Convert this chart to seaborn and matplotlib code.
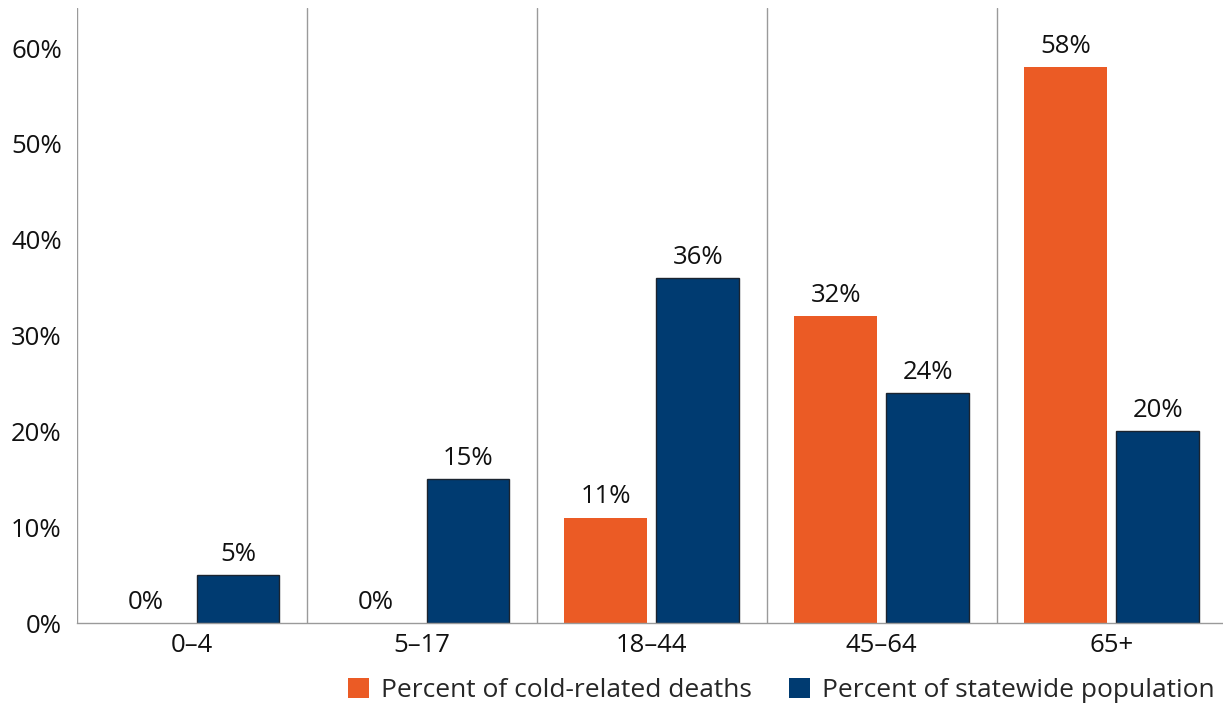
import matplotlib
matplotlib.use("Agg")
import matplotlib.pyplot as plt
import seaborn as sns
import pandas as pd
from matplotlib.patches import Patch

age_groups = ["0\u20134", "5\u201317", "18\u201344", "45\u201364", "65+"]
cold_deaths_pct = [0, 0, 11, 32, 58]
population_pct = [5, 15, 36, 24, 20]
series_names = ["Percent of cold-related deaths", "Percent of statewide population"]
y_ticks = [0, 10, 20, 30, 40, 50, 60]

ORANGE = "#EB5B25"
NAVY = "#003B71"

df = pd.DataFrame({
    "age": age_groups * 2,
    "pct": cold_deaths_pct + population_pct,
    "series": [series_names[0]] * len(age_groups) + [series_names[1]] * len(age_groups),
})

sns.set_theme(style="white")
plt.rcParams["font.family"] = ["Open Sans", "DejaVu Sans"]

fig = plt.figure(figsize=(12.23, 7.09), dpi=100)
ax = fig.add_axes([0.063, 0.121, 0.94, 0.868])

sns.barplot(data=df, x="age", y="pct", hue="series", order=age_groups,
            hue_order=series_names, palette=[ORANGE, NAVY], saturation=1,
            width=0.8, gap=0.1, ax=ax, legend=False, errorbar=None)

# outline on the population bars only
for container, (ec, lw) in zip(ax.containers, [(ORANGE, 0.0), ("#1b2430", 1.0)]):
    for bar in container:
        bar.set_edgecolor(ec)
        bar.set_linewidth(lw)
    ax.bar_label(container, labels=[f"{v:.0f}%" for v in container.datavalues],
                 padding=6, fontsize=18.5, color="#111111")

ax.set_xlim(-0.5, len(age_groups) - 0.5)
ax.set_ylim(0, 64.2)
ax.set_yticks(y_ticks)
ax.set_yticklabels([f"{t}%" for t in y_ticks])
ax.set_xlabel("")
ax.set_ylabel("")
ax.tick_params(axis="both", length=0, labelsize=18.5, colors="#111111")
ax.tick_params(axis="y", pad=11)
ax.tick_params(axis="x", pad=7)

# separators between age groups
for i in range(len(age_groups)):
    ax.axvline(i - 0.5, color="#9a9a9a", linewidth=1.0, zorder=0)

for side in ["top", "right", "left"]:
    ax.spines[side].set_visible(False)
ax.spines["bottom"].set_color("#9a9a9a")
ax.spines["bottom"].set_linewidth(1.0)

handles = [Patch(facecolor=ORANGE, edgecolor="none"), Patch(facecolor=NAVY, edgecolor="none")]
fig.legend(handles, series_names, loc="lower right", bbox_to_anchor=(1.006, -0.014),
           ncol=2, frameon=False, fontsize=19, handlelength=0.8, handleheight=0.8,
           handletextpad=0.45, columnspacing=1.4, borderaxespad=0.2)

fig.savefig("out.png", dpi=100)
